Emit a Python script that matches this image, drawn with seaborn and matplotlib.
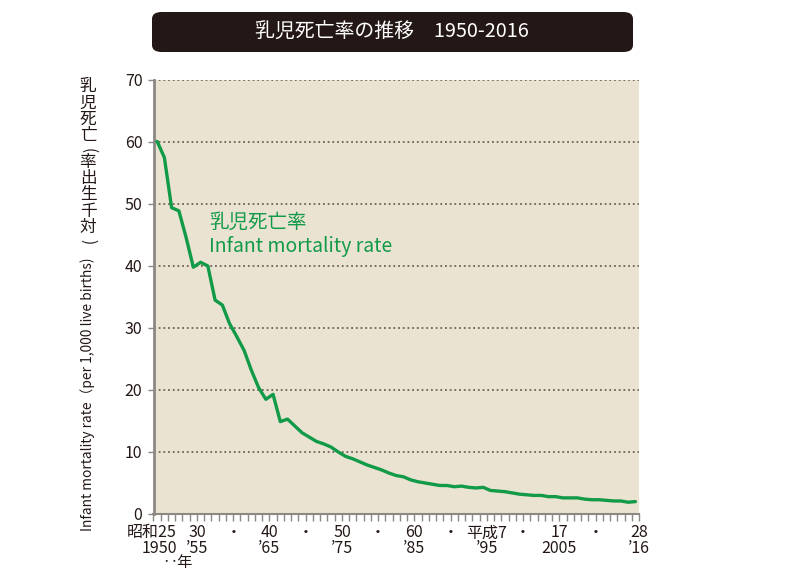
import numpy as np
import pandas as pd
import matplotlib
matplotlib.use("Agg")
import matplotlib.pyplot as plt
from matplotlib.patches import FancyBboxPatch
import seaborn as sns

years = list(range(1950, 2017))
rate = [60.1, 57.5, 49.4, 48.9, 44.6, 39.8, 40.6, 40.0, 34.5, 33.7,
        30.7, 28.6, 26.4, 23.2, 20.4, 18.5, 19.3, 14.9, 15.3, 14.2,
        13.1, 12.4, 11.7, 11.3, 10.8, 10.0, 9.3, 8.9, 8.4, 7.9,
        7.5, 7.1, 6.6, 6.2, 6.0, 5.5, 5.2, 5.0, 4.8, 4.6,
        4.6, 4.4, 4.5, 4.3, 4.2, 4.3, 3.8, 3.7, 3.6, 3.4,
        3.2, 3.1, 3.0, 3.0, 2.8, 2.8, 2.6, 2.6, 2.6, 2.4,
        2.3, 2.3, 2.2, 2.1, 2.1, 1.9, 2.0]

label_years = [1950, 1955, 1960, 1965, 1970, 1975, 1980, 1985, 1990, 1995, 2000, 2005, 2010, 2016]
label_era = ["昭和25", "30", "・", "40", "・", "50", "・", "60", "・", "平成7", "・", "17", "・", "28"]
label_west = ["1950", "’55", "", "’65", "", "’75", "", "’85", "", "’95", "", "2005", "", "’16"]
yticks = [0, 10, 20, 30, 40, 50, 60, 70]

title = "乳児死亡率の推移　1950-2016"
series_ja = "乳児死亡率"
series_en = "Infant mortality rate"
ylabel_ja = ["乳", "児", "死", "亡", "(", "率", "出", "生", "千", "対", ")"]
ylabel_en = "Infant mortality rate（per 1,000 live births)"

sns.set_theme(style="white")
plt.rcParams['font.family'] = ['Noto Sans CJK JP', 'DejaVu Sans']

BG = "#EAE3D2"
GREEN = "#119A48"
DARK = "#231815"
GRAY = "#8C8884"

df = pd.DataFrame({"year": years, "rate": rate})

fig = plt.figure(figsize=(8, 5.71), dpi=100)
ax = fig.add_axes([153.5 / 800, 1 - 514 / 571, (639 - 153.5) / 800, (514 - 80) / 571])
ax.set_facecolor(BG)

for v in yticks[1:]:
    ax.axhline(v, color="#6E6259", lw=1.3, ls=(0, (1, 1.6)), zorder=1)

sns.lineplot(data=df, x="year", y="rate", color=GREEN, lw=2.4, ax=ax, zorder=3)

ax.set_xlim(1949.5, 2016.5)
ax.set_ylim(0, 70)
ax.set_yticks(yticks)
ax.set_yticklabels([str(v) for v in yticks], fontsize=11.5, color=DARK)
ax.tick_params(axis="y", length=4, width=1, color=GRAY, pad=4, left=True)
ax.set_xticks(np.arange(1949.5, 2017, 1.0))
ax.set_xticklabels([])
ax.tick_params(axis="x", length=5, width=1, color=GRAY, bottom=True, direction="out")
ax.set_xlabel("")
ax.set_ylabel("")

for s in ["top", "right"]:
    ax.spines[s].set_visible(False)
ax.spines["left"].set_color(GRAY)
ax.spines["left"].set_linewidth(2)
ax.spines["bottom"].set_color(GRAY)
ax.spines["bottom"].set_linewidth(1.5)

trans = ax.get_xaxis_transform()
r1, r2 = -0.024, -0.061
for i, (yr, e, w) in enumerate(zip(label_years, label_era, label_west)):
    if i == 0:
        ax.text(yr + 2.7, r1, e, transform=trans, ha="right", va="top", fontsize=11.5, color=DARK)
        ax.text(yr + 2.7, r2, w, transform=trans, ha="right", va="top", fontsize=11.5, color=DARK)
    else:
        ax.text(yr + 0.5, r1, e, transform=trans, ha="center", va="top", fontsize=11.5, color=DARK)
        if w:
            ax.text(yr + 0.5, r2, w, transform=trans, ha="center", va="top", fontsize=11.5, color=DARK)
fig.text(177 / 800, 1 - 563 / 571, "‥年", ha="center", va="center", fontsize=11, color=DARK)

ax.text(1957.2, 47.0, series_ja, ha="left", va="center", fontsize=14, color=GREEN)
ax.text(1957.2, 43.2, series_en, ha="left", va="center", fontsize=14, color=GREEN)

# vertical Japanese y label
y = 87
for ch in ylabel_ja:
    if ch in "()":
        fig.text(88 / 800, 1 - (y - 2) / 571, ch, ha="center", va="center", fontsize=11,
                 rotation=-90, color=DARK)
        y += 10
    else:
        fig.text(88 / 800, 1 - y / 571, ch, ha="center", va="center", fontsize=12,
                 color=DARK)
        y += 16.3
fig.text(88 / 800, 1 - 531 / 571, ylabel_en, rotation=90, ha="center", va="bottom", fontsize=9.9, color=DARK)

# title box
box = FancyBboxPatch((152 / 800, 1 - 52 / 571), (633 - 152) / 800, 40 / 571,
                     boxstyle="round,pad=0,rounding_size=0.012", transform=fig.transFigure,
                     facecolor=DARK, edgecolor="none")
fig.patches.append(box)
fig.text(392 / 800, 1 - 32 / 571, title, ha="center", va="center", fontsize=14.3, color="white")

fig.savefig("out.png", dpi=100, facecolor="white")
